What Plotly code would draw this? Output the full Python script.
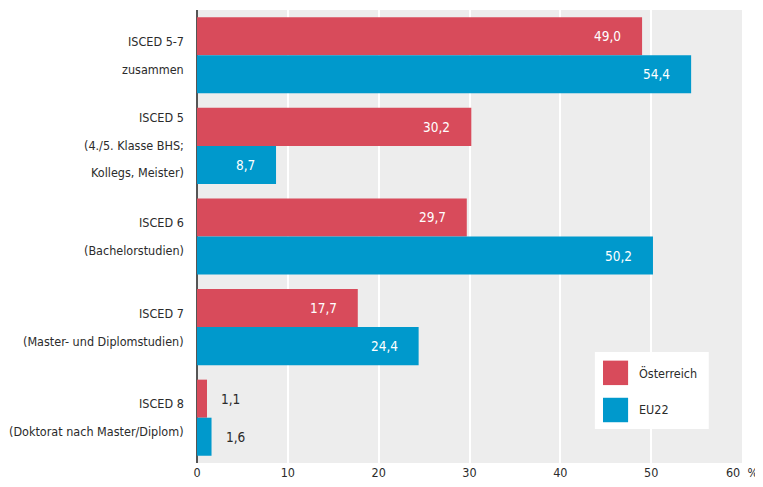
import plotly.graph_objects as go

# ---- data ----
category_lines = [
    ["ISCED 5-7", "zusammen"],
    ["ISCED 5", "(4./5. Klasse BHS;", "Kollegs, Meister)"],
    ["ISCED 6", "(Bachelorstudien)"],
    ["ISCED 7", "(Master- und Diplomstudien)"],
    ["ISCED 8", "(Doktorat nach Master/Diplom)"],
]
series_names = ["Österreich", "EU22"]
values_at = [49.0, 30.2, 29.7, 17.7, 1.1]
values_eu = [54.4, 8.7, 50.2, 24.4, 1.6]
x_ticks = [0, 10, 20, 30, 40, 50, 60]
x_ticktext = ["0", "10", "20", "30", "40", "50", "60\u00a0\u00a0%"]

colors = ["#D84B5B", "#0099CC"]
FONT = "DejaVu Sans Condensed, Liberation Sans Narrow, sans-serif"
BARGAP = 0.16

y_pos = list(range(len(category_lines)))

fig = go.Figure()
for name, vals, col in zip(series_names, [values_at, values_eu], colors):
    fig.add_trace(go.Bar(
        y=y_pos, x=vals, name=name, orientation="h",
        marker=dict(color=col, line=dict(width=0)),
        showlegend=False, hoverinfo="x+name",
    ))

annotations = []
# category labels (one annotation per line)
for i, lines in enumerate(category_lines):
    if len(lines) == 2:
        offs = [-14, 14]
    else:
        offs = [-28, 0, 27]
    for line, off in zip(lines, offs):
        annotations.append(dict(
            text=line, xref="paper", x=0, xshift=-11, xanchor="right",
            yref="y", y=i, yshift=-off, yanchor="middle",
            showarrow=False, font=dict(family=FONT, size=12.5, color="#2b2b2b"),
        ))

# value labels
half = (1 - BARGAP) / 2
for t, vals in enumerate([values_at, values_eu]):
    dy = -half / 2 if t == 0 else half / 2
    for i, v in enumerate(vals):
        txt = f"{v:.1f}".replace(".", ",")
        if v > 5:
            annotations.append(dict(
                text=txt, x=v, y=i + dy, xref="x", yref="y",
                xanchor="right", xshift=-19, showarrow=False,
                font=dict(family=FONT, size=13.5, color="white"),
            ))
        else:
            annotations.append(dict(
                text=txt, x=v, y=i + dy, xref="x", yref="y",
                xanchor="left", xshift=12, showarrow=False,
                font=dict(family=FONT, size=13.5, color="#2b2b2b"),
            ))

# custom legend
shapes = [dict(type="rect", xref="paper", yref="paper", x0=0.730, x1=0.939,
               y0=0.075, y1=0.245, fillcolor="white", line=dict(width=0), layer="above")]
legend_rows = [(0.199, colors[0], series_names[0]), (0.117, colors[1], series_names[1])]
for yc, col, name in legend_rows:
    shapes.append(dict(type="rect", xref="paper", yref="paper",
                       x0=0.745, x1=0.791, y0=yc - 0.027, y1=yc + 0.027,
                       fillcolor=col, line=dict(width=0), layer="above"))
    annotations.append(dict(text=name, xref="paper", yref="paper", x=0.808, y=yc,
                            xanchor="left", yanchor="middle", showarrow=False,
                            font=dict(family=FONT, size=12.5, color="#2b2b2b")))

# page body has an 8px margin, so the figure is sized to fit the 763x487 window
fig.update_layout(
    width=755, height=479,
    margin=dict(l=189, r=21, t=2, b=24, autoexpand=False),
    paper_bgcolor="white", plot_bgcolor="#EDEDED",
    barmode="group", bargap=BARGAP, bargroupgap=0,
    font=dict(family=FONT, size=12.5, color="#2b2b2b"),
    xaxis=dict(range=[0, 60], tickvals=x_ticks, ticktext=x_ticktext,
               showgrid=True, gridcolor="white", gridwidth=2,
               zeroline=True, zerolinecolor="#555555", zerolinewidth=2,
               ticks="", tickfont=dict(family=FONT, size=12.5, color="#2b2b2b"),
               automargin=False, fixedrange=True),
    yaxis=dict(range=[4.5, -0.5], showticklabels=False, showgrid=False,
               zeroline=False, ticks="", automargin=False, fixedrange=True),
    annotations=annotations, shapes=shapes,
    showlegend=False,
)

fig.write_html("out.html")
